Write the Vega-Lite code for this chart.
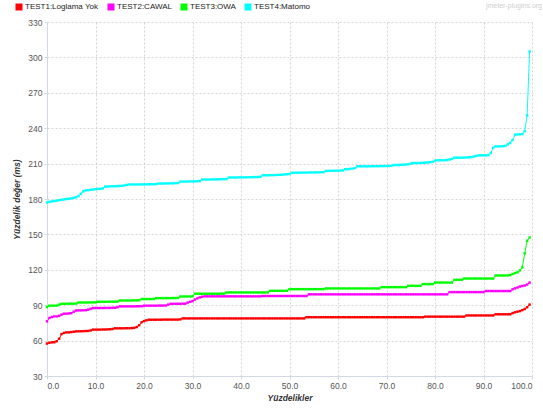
{
  "$schema": "https://vega.github.io/schema/vega-lite/v6.json",
  "width": 485,
  "height": 354,
  "autosize": {"type": "none"},
  "padding": {"left": 47, "top": 22, "right": 11, "bottom": 36},
  "background": "white",
  "title": {
    "text": "jmeter-plugins.org",
    "anchor": "end",
    "frame": "group",
    "orient": "top",
    "fontSize": 7,
    "fontWeight": "normal",
    "font": "Liberation Sans",
    "color": "#cfcfcf",
    "offset": -6,
    "dx": 10
  },
  "config": {
    "view": {"stroke": null},
    "font": "Liberation Sans",
    "axis": {
      "gridColor": "#d4d4d4",
      "gridDash": [2, 2],
      "gridWidth": 1,
      "domainColor": "#d3d9e4",
      "tickColor": "#d3d9e4",
      "tickSize": 3,
      "labelColor": "#555555",
      "labelFontSize": 8.5,
      "labelPadding": 2,
      "titleColor": "#333333",
      "titleFontSize": 8.5,
      "titleFontStyle": "italic",
      "titleFontWeight": "bold"
    }
  },
  "data": {
    "values": [
      {"p": 0, "a": 57.5, "b": 76.3, "c": 88.5, "d": 177},
      {"p": 0.5, "a": 58.2, "b": 79.2, "c": 89.6, "d": 177.5},
      {"p": 1, "a": 58.5, "b": 80, "c": 89.6, "d": 178},
      {"p": 1.5, "a": 58.6, "b": 80.5, "c": 89.6, "d": 178.3},
      {"p": 2, "a": 59.5, "b": 80.5, "c": 89.7, "d": 178.6},
      {"p": 2.5, "a": 61.5, "b": 81, "c": 90.5, "d": 179},
      {"p": 3, "a": 65.5, "b": 82, "c": 91.2, "d": 179.3},
      {"p": 3.5, "a": 66.5, "b": 82.8, "c": 91.2, "d": 179.6},
      {"p": 4, "a": 67, "b": 82.8, "c": 91.2, "d": 180},
      {"p": 4.5, "a": 67, "b": 83, "c": 91.3, "d": 180.2},
      {"p": 5, "a": 67.2, "b": 83.2, "c": 91.3, "d": 180.5},
      {"p": 5.5, "a": 67.5, "b": 84.5, "c": 91.3, "d": 181},
      {"p": 6, "a": 67.8, "b": 85.5, "c": 91.4, "d": 181.5},
      {"p": 6.5, "a": 67.9, "b": 85.6, "c": 92.3, "d": 182.5},
      {"p": 7, "a": 67.9, "b": 85.6, "c": 92.3, "d": 184.5},
      {"p": 7.5, "a": 68, "b": 85.7, "c": 92.3, "d": 186.5},
      {"p": 8, "a": 68.1, "b": 85.8, "c": 92.3, "d": 187.3},
      {"p": 8.5, "a": 68.2, "b": 86.2, "c": 92.3, "d": 187.5},
      {"p": 9, "a": 68.6, "b": 87, "c": 92.4, "d": 187.8},
      {"p": 9.5, "a": 69.3, "b": 87.6, "c": 92.4, "d": 188},
      {"p": 10, "a": 69.3, "b": 87.6, "c": 92.4, "d": 188.3},
      {"p": 10.5, "a": 69.3, "b": 87.6, "c": 92.9, "d": 188.5},
      {"p": 11, "a": 69.3, "b": 87.6, "c": 92.9, "d": 188.6},
      {"p": 11.5, "a": 69.4, "b": 87.6, "c": 92.9, "d": 189},
      {"p": 12, "a": 69.4, "b": 87.7, "c": 92.9, "d": 190.5},
      {"p": 12.5, "a": 69.5, "b": 87.7, "c": 92.9, "d": 190.6},
      {"p": 13, "a": 69.6, "b": 87.7, "c": 93, "d": 190.7},
      {"p": 13.5, "a": 69.8, "b": 87.8, "c": 93, "d": 190.8},
      {"p": 14, "a": 70.4, "b": 87.8, "c": 93, "d": 190.8},
      {"p": 14.5, "a": 70.4, "b": 88.2, "c": 93, "d": 190.9},
      {"p": 15, "a": 70.4, "b": 89, "c": 94, "d": 191},
      {"p": 15.5, "a": 70.4, "b": 89, "c": 94, "d": 191.2},
      {"p": 16, "a": 70.5, "b": 89, "c": 94, "d": 191.5},
      {"p": 16.5, "a": 70.5, "b": 89, "c": 94, "d": 192},
      {"p": 17, "a": 70.5, "b": 89, "c": 94, "d": 192.3},
      {"p": 17.5, "a": 70.6, "b": 89, "c": 94, "d": 192.3},
      {"p": 18, "a": 70.8, "b": 89, "c": 94.1, "d": 192.3},
      {"p": 18.5, "a": 71.5, "b": 89.1, "c": 94.1, "d": 192.3},
      {"p": 19, "a": 73, "b": 89.1, "c": 94.2, "d": 192.3},
      {"p": 19.5, "a": 75.5, "b": 89.1, "c": 95.2, "d": 192.4},
      {"p": 20, "a": 76.5, "b": 89.6, "c": 95.2, "d": 192.4},
      {"p": 20.5, "a": 77.2, "b": 89.6, "c": 95.2, "d": 192.4},
      {"p": 21, "a": 77.7, "b": 89.6, "c": 95.2, "d": 192.5},
      {"p": 21.5, "a": 77.7, "b": 89.6, "c": 95.2, "d": 192.5},
      {"p": 22, "a": 77.7, "b": 89.6, "c": 95.3, "d": 192.5},
      {"p": 22.5, "a": 77.7, "b": 89.6, "c": 96, "d": 192.6},
      {"p": 23, "a": 77.7, "b": 89.7, "c": 96, "d": 193.1},
      {"p": 23.5, "a": 77.7, "b": 89.7, "c": 96, "d": 193.1},
      {"p": 24, "a": 77.8, "b": 89.7, "c": 96, "d": 193.1},
      {"p": 24.5, "a": 77.8, "b": 89.7, "c": 96, "d": 193.2},
      {"p": 25, "a": 77.8, "b": 90.5, "c": 96, "d": 193.2},
      {"p": 25.5, "a": 77.8, "b": 91.2, "c": 96, "d": 193.3},
      {"p": 26, "a": 77.8, "b": 91.2, "c": 96.1, "d": 193.3},
      {"p": 26.5, "a": 77.8, "b": 91.2, "c": 96.1, "d": 193.5},
      {"p": 27, "a": 77.8, "b": 91.2, "c": 96.2, "d": 193.5},
      {"p": 27.5, "a": 78, "b": 91.2, "c": 97.4, "d": 194.8},
      {"p": 28, "a": 78.8, "b": 91.3, "c": 97.4, "d": 194.8},
      {"p": 28.5, "a": 78.8, "b": 91.3, "c": 97.4, "d": 194.8},
      {"p": 29, "a": 78.8, "b": 92.2, "c": 97.4, "d": 194.8},
      {"p": 29.5, "a": 78.8, "b": 92.9, "c": 97.4, "d": 194.9},
      {"p": 30, "a": 78.8, "b": 93.5, "c": 97.5, "d": 194.9},
      {"p": 30.5, "a": 78.8, "b": 94.8, "c": 99.7, "d": 195},
      {"p": 31, "a": 78.8, "b": 95.8, "c": 99.7, "d": 195},
      {"p": 31.5, "a": 78.8, "b": 96.6, "c": 99.7, "d": 195.2},
      {"p": 32, "a": 78.8, "b": 97.2, "c": 99.7, "d": 196.5},
      {"p": 32.5, "a": 78.8, "b": 97.5, "c": 99.7, "d": 196.5},
      {"p": 33, "a": 78.8, "b": 97.5, "c": 99.7, "d": 196.5},
      {"p": 33.5, "a": 78.8, "b": 97.5, "c": 99.7, "d": 196.5},
      {"p": 34, "a": 78.8, "b": 97.5, "c": 99.7, "d": 196.6},
      {"p": 34.5, "a": 78.8, "b": 97.5, "c": 99.7, "d": 196.6},
      {"p": 35, "a": 78.8, "b": 97.5, "c": 99.7, "d": 196.6},
      {"p": 35.5, "a": 78.8, "b": 97.5, "c": 99.7, "d": 196.7},
      {"p": 36, "a": 78.8, "b": 97.5, "c": 99.8, "d": 196.8},
      {"p": 36.5, "a": 78.8, "b": 97.5, "c": 99.8, "d": 196.8},
      {"p": 37, "a": 78.8, "b": 97.5, "c": 100.8, "d": 196.9},
      {"p": 37.5, "a": 78.8, "b": 97.5, "c": 100.8, "d": 198.2},
      {"p": 38, "a": 78.8, "b": 97.5, "c": 100.8, "d": 198.2},
      {"p": 38.5, "a": 78.8, "b": 97.5, "c": 100.8, "d": 198.2},
      {"p": 39, "a": 78.8, "b": 97.5, "c": 100.8, "d": 198.2},
      {"p": 39.5, "a": 78.8, "b": 97.5, "c": 100.8, "d": 198.3},
      {"p": 40, "a": 78.8, "b": 97.5, "c": 100.8, "d": 198.3},
      {"p": 40.5, "a": 78.8, "b": 97.5, "c": 100.8, "d": 198.3},
      {"p": 41, "a": 78.8, "b": 97.5, "c": 100.8, "d": 198.4},
      {"p": 41.5, "a": 78.8, "b": 97.5, "c": 100.8, "d": 198.4},
      {"p": 42, "a": 78.8, "b": 97.5, "c": 100.8, "d": 198.5},
      {"p": 42.5, "a": 78.8, "b": 97.5, "c": 100.8, "d": 198.5},
      {"p": 43, "a": 78.8, "b": 97.5, "c": 100.8, "d": 198.6},
      {"p": 43.5, "a": 78.8, "b": 97.5, "c": 100.8, "d": 198.7},
      {"p": 44, "a": 78.8, "b": 97.5, "c": 100.8, "d": 198.8},
      {"p": 44.5, "a": 78.8, "b": 97.8, "c": 100.8, "d": 200.1},
      {"p": 45, "a": 78.8, "b": 97.8, "c": 100.8, "d": 200.1},
      {"p": 45.5, "a": 78.8, "b": 97.8, "c": 100.8, "d": 200.1},
      {"p": 46, "a": 78.8, "b": 97.8, "c": 102.2, "d": 200.2},
      {"p": 46.5, "a": 78.8, "b": 97.8, "c": 102.2, "d": 200.2},
      {"p": 47, "a": 78.8, "b": 97.8, "c": 102.2, "d": 200.3},
      {"p": 47.5, "a": 78.8, "b": 97.8, "c": 102.2, "d": 200.4},
      {"p": 48, "a": 78.8, "b": 97.8, "c": 102.2, "d": 200.5},
      {"p": 48.5, "a": 78.8, "b": 97.8, "c": 102.2, "d": 200.6},
      {"p": 49, "a": 78.8, "b": 97.8, "c": 102.2, "d": 200.8},
      {"p": 49.5, "a": 78.8, "b": 97.8, "c": 102.2, "d": 201},
      {"p": 50, "a": 78.8, "b": 97.8, "c": 103.6, "d": 201.2},
      {"p": 50.5, "a": 78.8, "b": 97.8, "c": 103.6, "d": 202.2},
      {"p": 51, "a": 78.8, "b": 97.8, "c": 103.6, "d": 202.2},
      {"p": 51.5, "a": 78.8, "b": 97.8, "c": 103.6, "d": 202.3},
      {"p": 52, "a": 78.8, "b": 97.8, "c": 103.6, "d": 202.3},
      {"p": 52.5, "a": 78.8, "b": 97.8, "c": 103.6, "d": 202.4},
      {"p": 53, "a": 78.8, "b": 97.8, "c": 103.6, "d": 202.4},
      {"p": 53.5, "a": 79.8, "b": 97.8, "c": 103.6, "d": 202.4},
      {"p": 54, "a": 79.8, "b": 99.2, "c": 103.6, "d": 202.5},
      {"p": 54.5, "a": 79.8, "b": 99.2, "c": 103.6, "d": 202.5},
      {"p": 55, "a": 79.8, "b": 99.2, "c": 103.6, "d": 202.5},
      {"p": 55.5, "a": 79.8, "b": 99.2, "c": 103.6, "d": 202.6},
      {"p": 56, "a": 79.8, "b": 99.2, "c": 103.6, "d": 202.6},
      {"p": 56.5, "a": 79.8, "b": 99.2, "c": 103.6, "d": 202.7},
      {"p": 57, "a": 79.8, "b": 99.2, "c": 103.6, "d": 202.7},
      {"p": 57.5, "a": 79.8, "b": 99.2, "c": 104.2, "d": 203.8},
      {"p": 58, "a": 79.8, "b": 99.2, "c": 104.2, "d": 203.8},
      {"p": 58.5, "a": 79.8, "b": 99.2, "c": 104.2, "d": 203.9},
      {"p": 59, "a": 79.8, "b": 99.2, "c": 104.2, "d": 203.9},
      {"p": 59.5, "a": 79.8, "b": 99.2, "c": 104.2, "d": 204},
      {"p": 60, "a": 79.8, "b": 99.2, "c": 104.2, "d": 204},
      {"p": 60.5, "a": 79.8, "b": 99.2, "c": 104.2, "d": 204.1},
      {"p": 61, "a": 79.8, "b": 99.2, "c": 104.2, "d": 204.2},
      {"p": 61.5, "a": 79.8, "b": 99.2, "c": 104.2, "d": 205.2},
      {"p": 62, "a": 79.8, "b": 99.2, "c": 104.2, "d": 205.2},
      {"p": 62.5, "a": 79.8, "b": 99.2, "c": 104.2, "d": 205.5},
      {"p": 63, "a": 79.8, "b": 99.2, "c": 104.2, "d": 205.8},
      {"p": 63.5, "a": 79.8, "b": 99.2, "c": 104.2, "d": 206.2},
      {"p": 64, "a": 79.8, "b": 99.2, "c": 104.2, "d": 207.7},
      {"p": 64.5, "a": 79.8, "b": 99.2, "c": 104.2, "d": 207.7},
      {"p": 65, "a": 79.8, "b": 99.2, "c": 104.2, "d": 207.7},
      {"p": 65.5, "a": 79.8, "b": 99.2, "c": 104.2, "d": 207.7},
      {"p": 66, "a": 79.8, "b": 99.2, "c": 104.2, "d": 207.7},
      {"p": 66.5, "a": 79.8, "b": 99.2, "c": 104.2, "d": 207.7},
      {"p": 67, "a": 79.8, "b": 99.2, "c": 104.2, "d": 207.8},
      {"p": 67.5, "a": 79.8, "b": 99.2, "c": 104.2, "d": 207.8},
      {"p": 68, "a": 79.8, "b": 99.2, "c": 104.2, "d": 207.8},
      {"p": 68.5, "a": 79.8, "b": 99.2, "c": 104.2, "d": 207.8},
      {"p": 69, "a": 79.8, "b": 99.2, "c": 105.3, "d": 207.9},
      {"p": 69.5, "a": 79.8, "b": 99.2, "c": 105.3, "d": 207.9},
      {"p": 70, "a": 79.8, "b": 99.2, "c": 105.3, "d": 208},
      {"p": 70.5, "a": 79.8, "b": 99.2, "c": 105.3, "d": 208},
      {"p": 71, "a": 79.8, "b": 99.2, "c": 105.3, "d": 208.1},
      {"p": 71.5, "a": 79.8, "b": 99.2, "c": 105.3, "d": 208.8},
      {"p": 72, "a": 79.8, "b": 99.2, "c": 105.3, "d": 208.8},
      {"p": 72.5, "a": 79.8, "b": 99.2, "c": 105.3, "d": 208.9},
      {"p": 73, "a": 79.8, "b": 99.2, "c": 105.3, "d": 209},
      {"p": 73.5, "a": 79.8, "b": 99.2, "c": 105.3, "d": 209},
      {"p": 74, "a": 79.8, "b": 99.2, "c": 105.3, "d": 209.2},
      {"p": 74.5, "a": 79.8, "b": 99.2, "c": 106.4, "d": 209.5},
      {"p": 75, "a": 79.8, "b": 99.2, "c": 106.4, "d": 210},
      {"p": 75.5, "a": 79.8, "b": 99.2, "c": 106.4, "d": 210.5},
      {"p": 76, "a": 79.8, "b": 99.2, "c": 106.4, "d": 210.5},
      {"p": 76.5, "a": 79.8, "b": 99.2, "c": 106.4, "d": 210.5},
      {"p": 77, "a": 79.8, "b": 99.2, "c": 106.4, "d": 210.6},
      {"p": 77.5, "a": 79.8, "b": 99.2, "c": 107.9, "d": 210.7},
      {"p": 78, "a": 80.3, "b": 99.2, "c": 107.9, "d": 210.8},
      {"p": 78.5, "a": 80.3, "b": 99.2, "c": 107.9, "d": 211},
      {"p": 79, "a": 80.3, "b": 99.2, "c": 107.9, "d": 211.2},
      {"p": 79.5, "a": 80.3, "b": 99.2, "c": 107.9, "d": 211.5},
      {"p": 80, "a": 80.3, "b": 99.2, "c": 109.2, "d": 212.5},
      {"p": 80.5, "a": 80.3, "b": 99.2, "c": 109.2, "d": 212.8},
      {"p": 81, "a": 80.3, "b": 99.2, "c": 109.2, "d": 212.8},
      {"p": 81.5, "a": 80.3, "b": 99.2, "c": 109.2, "d": 212.8},
      {"p": 82, "a": 80.3, "b": 99.2, "c": 109.2, "d": 212.9},
      {"p": 82.5, "a": 80.3, "b": 99.2, "c": 109.2, "d": 213},
      {"p": 83, "a": 80.3, "b": 101.1, "c": 109.2, "d": 213.5},
      {"p": 83.5, "a": 80.3, "b": 101.1, "c": 109.2, "d": 214},
      {"p": 84, "a": 80.3, "b": 101.1, "c": 111.5, "d": 215},
      {"p": 84.5, "a": 80.3, "b": 101.1, "c": 111.5, "d": 215},
      {"p": 85, "a": 80.3, "b": 101.1, "c": 111.5, "d": 215},
      {"p": 85.5, "a": 80.3, "b": 101.1, "c": 111.5, "d": 215},
      {"p": 86, "a": 80.3, "b": 101.1, "c": 112.6, "d": 215.1},
      {"p": 86.5, "a": 81.3, "b": 101.1, "c": 112.6, "d": 215.2},
      {"p": 87, "a": 81.3, "b": 101.1, "c": 112.6, "d": 215.3},
      {"p": 87.5, "a": 81.3, "b": 101.1, "c": 112.6, "d": 215.5},
      {"p": 88, "a": 81.3, "b": 101.1, "c": 112.6, "d": 216},
      {"p": 88.5, "a": 81.3, "b": 101.1, "c": 112.6, "d": 216.5},
      {"p": 89, "a": 81.3, "b": 101.1, "c": 112.6, "d": 217},
      {"p": 89.5, "a": 81.3, "b": 101.1, "c": 112.6, "d": 217},
      {"p": 90, "a": 81.3, "b": 101.1, "c": 112.6, "d": 217},
      {"p": 90.5, "a": 81.3, "b": 102, "c": 112.6, "d": 217},
      {"p": 91, "a": 81.3, "b": 102, "c": 112.6, "d": 217.2},
      {"p": 91.5, "a": 81.3, "b": 102, "c": 112.6, "d": 219},
      {"p": 92, "a": 81.3, "b": 102, "c": 112.6, "d": 223.5},
      {"p": 92.5, "a": 82.3, "b": 102, "c": 115.2, "d": 224.6},
      {"p": 93, "a": 82.3, "b": 102, "c": 115.2, "d": 224.6},
      {"p": 93.5, "a": 82.3, "b": 102, "c": 115.2, "d": 224.6},
      {"p": 94, "a": 82.3, "b": 102, "c": 115.2, "d": 224.8},
      {"p": 94.5, "a": 82.3, "b": 102, "c": 115.2, "d": 225},
      {"p": 95, "a": 82.3, "b": 102, "c": 115.2, "d": 226.3},
      {"p": 95.5, "a": 82.3, "b": 102, "c": 115.5, "d": 227.5},
      {"p": 96, "a": 83.3, "b": 103.5, "c": 116.5, "d": 230},
      {"p": 96.5, "a": 84, "b": 104.3, "c": 117.3, "d": 234.5},
      {"p": 97, "a": 84.5, "b": 105, "c": 117.8, "d": 234.7},
      {"p": 97.5, "a": 85, "b": 105.8, "c": 119.5, "d": 234.8},
      {"p": 98, "a": 85.8, "b": 106.3, "c": 122, "d": 235},
      {"p": 98.5, "a": 86.8, "b": 106.7, "c": 134, "d": 237.5},
      {"p": 99, "a": 88.3, "b": 107.5, "c": 144.6, "d": 250.8},
      {"p": 99.5, "a": 90.5, "b": 109.2, "c": 147.4, "d": 305}
    ]
  },
  "transform": [{"fold": ["a", "b", "c", "d"], "as": ["test", "ms"]}],
  "mark": {
    "type": "line",
    "strokeWidth": 1,
    "point": {"shape": "square", "size": 6, "filled": true}
  },
  "encoding": {
    "x": {
      "field": "p",
      "type": "quantitative",
      "scale": {"domain": [0, 100], "nice": false, "zero": false},
      "axis": {
        "title": "Yüzdelikler",
        "values": [0, 10, 20, 30, 40, 50, 60, 70, 80, 90, 100],
        "format": ".1f",
        "titlePadding": 4
      }
    },
    "y": {
      "field": "ms",
      "type": "quantitative",
      "scale": {"domain": [30, 330], "nice": false, "zero": false},
      "axis": {
        "title": "Yüzdelik değer (ms)",
        "values": [30, 60, 90, 120, 150, 180, 210, 240, 270, 300, 330],
        "titlePadding": 6
      }
    },
    "color": {
      "field": "test",
      "type": "nominal",
      "scale": {
        "domain": ["a", "b", "c", "d"],
        "range": ["#ff0000", "#ff00ff", "#00ff00", "#00ffff"]
      },
      "legend": {
        "title": null,
        "orient": "none",
        "legendX": -32,
        "legendY": -19,
        "direction": "horizontal",
        "symbolType": "square",
        "symbolSize": 49,
        "symbolStrokeWidth": 0,
        "labelFontSize": 8,
        "labelColor": "#222222",
        "labelOffset": 2,
        "columnPadding": 8,
        "labelExpr": "{'a': 'TEST1:Loglama Yok', 'b': 'TEST2:CAWAL', 'c': 'TEST3:OWA', 'd': 'TEST4:Matomo'}[datum.label]",
        "encode": {
          "symbols": {"update": {"fill": {"scale": "color", "field": "value"}, "opacity": {"value": 1}}}
        }
      }
    }
  }
}
